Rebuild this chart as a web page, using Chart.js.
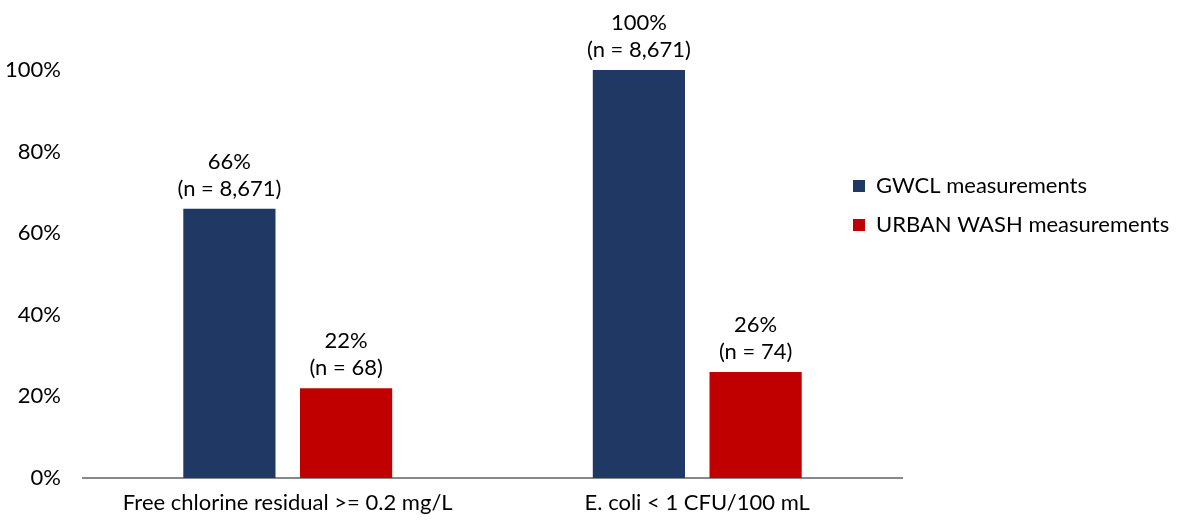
<!DOCTYPE html>
<html>
<head>
<meta charset="utf-8">
<script src="https://cdn.jsdelivr.net/npm/chart.js@4/dist/chart.umd.min.js"></script>
<style>
  html, body { margin: 0; padding: 0; background: #fff; }
  #wrap { width: 1180px; height: 520px; }
</style>
</head>
<body>
<div id="wrap"><canvas id="chart"></canvas></div>
<script>
// categories and series
const categories = ["Free chlorine residual >= 0.2 mg/L", "E. coli < 1 CFU/100 mL"];
const gwclValues = [66, 100];
const gwclCounts = ["8,671", "8,671"];
const washValues = [22, 26];
const washCounts = ["68", "74"];
const seriesNames = ["GWCL measurements", "URBAN WASH measurements"];
const yTicks = [0, 20, 40, 60, 80, 100];

const FONT = "Lato, 'Open Sans', sans-serif";
const SIZE = 22;
const counts = [gwclCounts, washCounts];

//labels above bars: percent then (n = ...)
const barLabels = {
  id: "barLabels",
  afterDatasetsDraw(chart) {
    const ctx = chart.ctx;
    ctx.save();
    ctx.fillStyle = "#000";
    ctx.font = SIZE + "px " + FONT;
    ctx.textAlign = "center";
    ctx.textBaseline = "middle";
    chart.data.datasets.forEach((ds, di) => {
      chart.getDatasetMeta(di).data.forEach((bar, i) => {
        ctx.fillText(ds.data[i] + "%", bar.x, bar.y - 47);
        ctx.fillText("(n = " + counts[di][i] + ")", bar.x, bar.y - 20);
      });
    });
    ctx.restore();
  }
};

//move legend so it sits over the right end of the axis, like the original
const legendSpot = {
  id: "legendSpot",
  afterUpdate(chart) {
    const lg = chart.legend;
    const h = lg.height;
    lg.left = 836; lg.right = chart.width;
    lg.width = lg.right - lg.left;
    lg.top = 158; lg.bottom = lg.top + h;
    lg.adjustHitBoxes();
  }
};

new Chart(document.getElementById("chart"), {
  type: "bar",
  plugins: [barLabels, legendSpot],
  data: {
    labels: categories,
    datasets: [
      { label: seriesNames[0], data: gwclValues, backgroundColor: "#203864" },
      { label: seriesNames[1], data: washValues, backgroundColor: "#C00000" }
    ]
  },
  options: {
    responsive: true,
    maintainAspectRatio: false,
    animation: false,
    categoryPercentage: 0.57,
    barPercentage: 0.79,
    layout: { padding: { top: 70, left: 0, right: 0, bottom: 0 } },
    plugins: {
      tooltip: { enabled: false },
      legend: {
        position: "right",
        align: "start",
        maxWidth: 278,
        labels: {
          color: "#000",
          font: { family: FONT, size: SIZE },
          boxWidth: 12,
          boxHeight: 12,
          padding: 17
        }
      }
    },
    scales: {
      x: {
        afterFit: (axis) => { axis.height = 42; },
        grid: { display: false, drawTicks: false },
        border: { display: true, color: "#888", width: 2 },
        ticks: { color: "#000", font: { family: FONT, size: SIZE, lineHeight: 1 }, padding: 14 }
      },
      y: {
        min: 0,
        max: 100,
        afterBuildTicks: (axis) => { axis.ticks = yTicks.map(v => ({ value: v })); },
        afterFit: (axis) => { axis.width = 83; },
        grid: { display: false, drawTicks: false },
        border: { display: false },
        ticks: {
          color: "#000",
          font: { family: FONT, size: SIZE },
          padding: 22,
          callback: (v) => v + "%"
        }
      }
    }
  }
});
</script>
</body>
</html>
